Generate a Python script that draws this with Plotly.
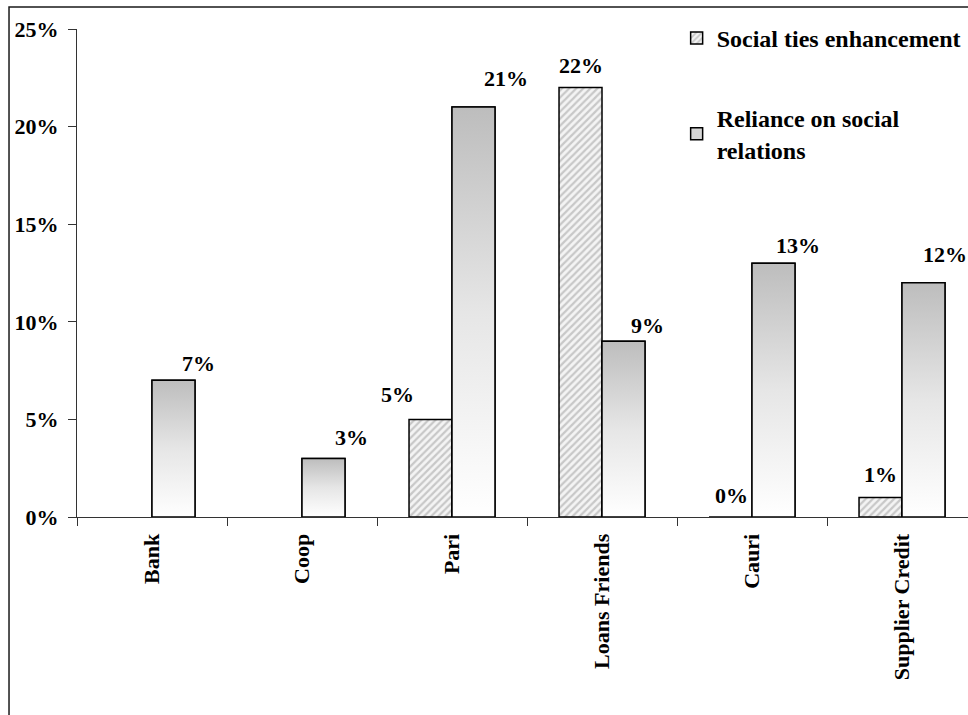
import plotly.graph_objects as go

# Source of credit and the share of respondents citing each social motive (%)
categories = ["Bank", "Coop", "Pari", "Loans Friends", "Cauri", "Supplier Credit"]
social_ties = [None, None, 5, 22, 0, 1]
social_reliance = [7, 3, 21, 9, 13, 12]
series_names = ["Social ties enhancement", "Reliance on social<br>relations"]

y_ticks = [0, 5, 10, 15, 20, 25]

FONT = "Liberation Serif"
BARGAP = 0.427
BAR_W = (1 - BARGAP) / 2  # width of one bar inside a group

# hand placement of the value labels (pixel offsets: dx, dy above bar top)
ties_label_offsets = [None, None, (-33, 25), (0, 22), (1, 22), (0, 23)]
reliance_label_offsets = [(25, 17), (28, 21), (33, 29), (24, 16), (25, 18), (22, 28)]

x_idx = list(range(len(categories)))

fig = go.Figure()

fig.add_trace(go.Bar(
    x=x_idx, y=social_ties, name=series_names[0], legendgroup="a",
    marker=dict(color="white", line=dict(color="black", width=1.5),
                pattern=dict(shape="/", fgcolor="#9c9c9c", bgcolor="#f4f4f4",
                             size=5, solidity=0.45)),
    hoverinfo="skip",
))
fig.add_trace(go.Bar(
    x=x_idx, y=social_reliance, name=series_names[1], legendgroup="b",
    marker=dict(color="#d6d6d6", line=dict(color="black", width=1.5)),
    hoverinfo="skip",
))

# vertical grey-to-white gradient laid over each "reliance" bar
for i, v in zip(x_idx, social_reliance):
    x0, x1 = i, i + BAR_W
    fig.add_trace(go.Scatter(
        x=[x0, x1, x1, x0, x0], y=[0, 0, v, v, 0],
        mode="lines", fill="toself",
        fillgradient=dict(type="vertical",
                          colorscale=[[0, "#ffffff"], [0.5, "#e6e6e6"], [1, "#bdbdbd"]]),
        line=dict(color="black", width=1.5),
        showlegend=False, hoverinfo="skip",
    ))

label_font = dict(family=FONT, size=22, color="black", weight="bold")

for i, v, off in zip(x_idx, social_ties, ties_label_offsets):
    if v is None:
        continue
    fig.add_annotation(x=i - BAR_W / 2, y=v, text=f"{v}%", showarrow=False,
                       xshift=off[0], yshift=off[1], yanchor="middle", font=label_font)
for i, v, off in zip(x_idx, social_reliance, reliance_label_offsets):
    fig.add_annotation(x=i + BAR_W / 2, y=v, text=f"{v}%", showarrow=False,
                       xshift=off[0], yshift=off[1], yanchor="middle", font=label_font)

# outer chart-area frame
fig.add_shape(type="rect", xref="paper", yref="paper",
              x0=-0.0763, x1=1.3, y0=-0.6, y1=1.045,
              line=dict(color="#1a1a1a", width=1.5), fillcolor="rgba(0,0,0,0)")

fig.update_layout(
    width=968, height=715,
    margin=dict(l=77, r=0, t=29, b=198),
    paper_bgcolor="white", plot_bgcolor="white",
    barmode="group", bargap=BARGAP, bargroupgap=0,
    font=dict(family=FONT, size=22, color="black", weight="bold"),
    showlegend=True,
    legend=dict(x=0.673, y=1.027, xanchor="left", yanchor="top",
                font=dict(family=FONT, size=24, color="black", weight="bold"),
                tracegroupgap=46, bgcolor="rgba(0,0,0,0)", traceorder="grouped"),
    xaxis=dict(
        range=[-0.5, -0.5 + 891 / 150],
        tickmode="array", tickvals=x_idx, ticktext=categories,
        tickangle=-90, ticks="", ticklabelstandoff=7,
        showline=True, linecolor="#333333", linewidth=1,
        showgrid=False, zeroline=False,
        minor=dict(tickmode="array", tickvals=[k - 0.5 for k in range(len(categories) + 1)],
                   ticks="outside", ticklen=8, tickcolor="#333333", showgrid=False),
    ),
    yaxis=dict(
        range=[0, 25], tickmode="array", tickvals=y_ticks,
        ticktext=[f"{t}%" for t in y_ticks],
        ticks="outside", ticklen=8, tickcolor="#333333", ticklabelstandoff=5,
        showline=True, linecolor="#333333", linewidth=1,
        showgrid=False, zeroline=False,
    ),
)

fig.write_html("out.html")
